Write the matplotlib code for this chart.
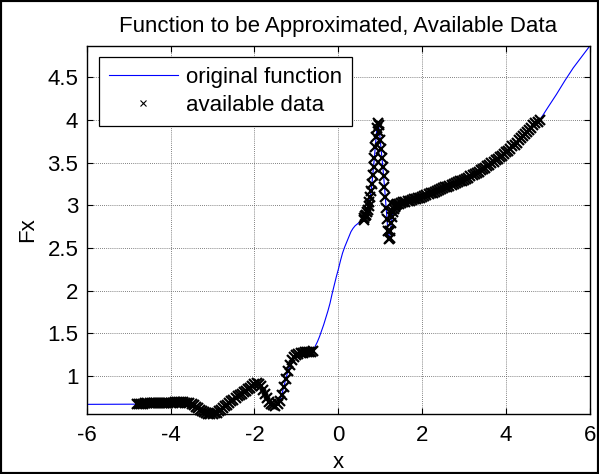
import matplotlib
matplotlib.use('Agg')
import matplotlib.pyplot as plt
from matplotlib.patches import Rectangle
import numpy as np

plt.rcParams['font.family'] = ['Liberation Sans', 'DejaVu Sans']

# ---- data ----
# available data, left part (x = -4.8 ... -0.6, step 0.05)
x_left_data = np.linspace(-4.8, -0.6, 85)
y_left_data = [0.672, 0.674, 0.676, 0.677, 0.678, 0.679, 0.680, 0.681, 0.682, 0.683,
               0.684, 0.685, 0.686, 0.687, 0.687, 0.688, 0.688, 0.689, 0.690, 0.690,
               0.690, 0.690, 0.690, 0.688, 0.685, 0.678, 0.668, 0.655, 0.640, 0.624,
               0.607, 0.591, 0.577, 0.566, 0.559, 0.555, 0.556, 0.561, 0.572, 0.588,
               0.606, 0.625, 0.645, 0.665, 0.685, 0.705, 0.724, 0.742, 0.760, 0.777,
               0.794, 0.810, 0.827, 0.845, 0.865, 0.888, 0.910, 0.920, 0.910, 0.880,
               0.840, 0.790, 0.740, 0.700, 0.670, 0.655, 0.652, 0.668, 0.710, 0.780,
               0.870, 0.970, 1.060, 1.130, 1.185, 1.220, 1.245, 1.260, 1.270, 1.275,
               1.280, 1.282, 1.284, 1.287, 1.295]

# available data, spike (x = 0.6 ... 1.4, step 0.02)
x_spike_data = np.linspace(0.6, 1.4, 41)
y_spike_data = [2.83, 2.85, 2.87, 2.89, 2.92, 2.95, 2.99, 3.04, 3.10, 3.17,
                3.25, 3.35, 3.45, 3.56, 3.68, 3.80, 3.90, 3.96, 3.94, 3.86,
                3.76, 3.66, 3.56, 3.45, 3.34, 3.22, 3.10, 2.97, 2.84, 2.70,
                2.60, 2.62, 2.70, 2.79, 2.86, 2.92, 2.96, 2.98, 2.995, 3.005,
                3.01]

# available data, right part (x = 1.45 ... 4.8, step 0.05)
x_right_data = np.linspace(1.45, 4.8, 68)
y_right_data = [3.02, 3.03, 3.035, 3.04, 3.05, 3.055, 3.06, 3.07, 3.075, 3.08,
                3.09, 3.10, 3.11, 3.12, 3.13, 3.14, 3.15, 3.16, 3.17, 3.18,
                3.19, 3.20, 3.21, 3.22, 3.23, 3.24, 3.25, 3.26, 3.27, 3.28,
                3.29, 3.30, 3.31, 3.325, 3.34, 3.35, 3.365, 3.38, 3.395, 3.41,
                3.425, 3.44, 3.46, 3.475, 3.49, 3.51, 3.53, 3.545, 3.565, 3.58,
                3.60, 3.62, 3.64, 3.665, 3.69, 3.71, 3.735, 3.76, 3.785, 3.81,
                3.835, 3.86, 3.885, 3.91, 3.935, 3.96, 3.98, 4.00]

# original function where there is no data
x_fn_start = [-6.0, -4.85]
y_fn_start = [0.668, 0.670]
x_fn_gap = np.linspace(-0.55, 0.55, 23)
y_fn_gap = [1.35, 1.40, 1.46, 1.53, 1.60, 1.68, 1.76, 1.85, 1.96, 2.06,
            2.16, 2.25, 2.35, 2.44, 2.51, 2.57, 2.63, 2.69, 2.73, 2.76,
            2.78, 2.80, 2.81]
x_fn_end = [4.85, 5.0, 5.2, 5.4, 5.6, 5.8, 6.0]
y_fn_end = [4.035, 4.15, 4.30, 4.46, 4.61, 4.74, 4.87]

x_ticks = [-6, -4, -2, 0, 2, 4, 6]
y_ticks = [1, 1.5, 2, 2.5, 3, 3.5, 4, 4.5]

# on assemble les morceaux
x_data = np.concatenate([x_left_data, x_spike_data, x_right_data])
y_data = np.concatenate([y_left_data, y_spike_data, y_right_data])
x_fn = np.concatenate([x_fn_start, x_left_data, x_fn_gap, x_spike_data, x_right_data, x_fn_end])
y_fn = np.concatenate([y_fn_start, y_left_data, y_fn_gap, y_spike_data, y_right_data, y_fn_end])

fig = plt.figure(figsize=(5.99, 4.74), dpi=100)
ax = fig.add_axes([0.1447, 0.1266, 0.8403, 0.777])

line_fn, = ax.plot(x_fn, y_fn, color='#0000ff', linewidth=0.8, label='original function')
line_data, = ax.plot(x_data, y_data, linestyle='none', marker='x', color='k',
                     markersize=7, markeredgewidth=1.6, clip_on=False, label='available data')

ax.set_xlim(-6, 6)
ax.set_ylim(0.555, 4.87)
ax.set_xticks(x_ticks)
ax.set_yticks(y_ticks)
ax.set_xticklabels([str(v) for v in x_ticks])
ax.set_yticklabels(['1', '1.5', '2', '2.5', '3', '3.5', '4', '4.5'])
ax.tick_params(direction='in', length=4, width=0.8, top=True, right=True, labelsize=16)
ax.tick_params(axis='x', pad=8)
ax.tick_params(axis='y', pad=6)
ax.grid(True, linestyle=(0, (1, 1.5)), linewidth=0.6, color='0.35')
for sp in ax.spines.values():
    sp.set_linewidth(1.0)

ax.set_title('Function to be Approximated, Available Data', fontsize=16, pad=10)
ax.set_xlabel('x', fontsize=16, labelpad=4)
ax.set_ylabel('Fx', fontsize=16)
ax.yaxis.set_label_coords(-0.097, 0.5)

leg = ax.legend(handles=[line_fn, line_data], loc='upper left',
                bbox_to_anchor=(99 / 599, 1 - 57 / 474), bbox_transform=fig.transFigure,
                borderaxespad=0, fancybox=False, framealpha=1, edgecolor='k',
                fontsize=16, numpoints=1, handlelength=3.1, handletextpad=0.36,
                labelspacing=0.3, borderpad=0.45)
leg.get_frame().set_linewidth(0.9)
# petite croix dans la légende
leg.legend_handles[1].set_markersize(5)
leg.legend_handles[1].set_markeredgewidth(0.8)

# cadre noir autour de la figure
fig.patches.append(Rectangle((0, 0), 1, 1, transform=fig.transFigure, fill=False,
                             edgecolor='k', linewidth=3))

plt.savefig('out.png', dpi=100)
plt.close()
